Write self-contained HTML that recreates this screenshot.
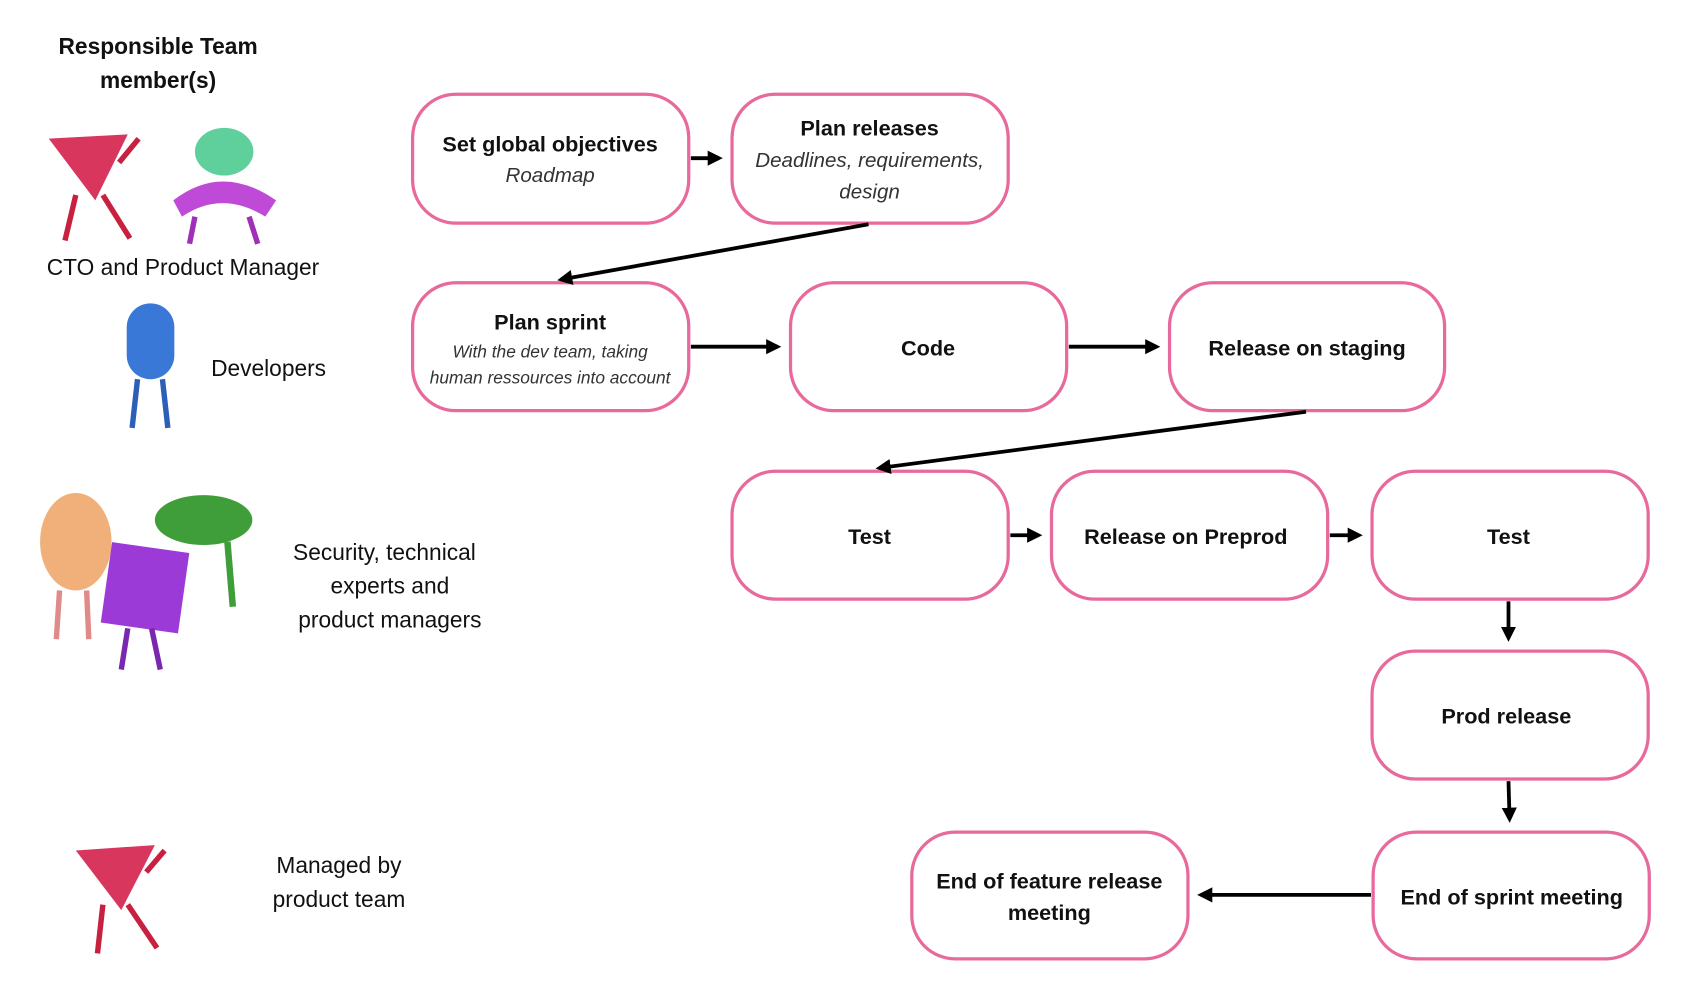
<!DOCTYPE html>
<html><head><meta charset="utf-8"><style>
html,body{margin:0;padding:0;background:#fff;width:1698px;height:1000px;overflow:hidden}
svg{display:block}
text{font-family:"Liberation Sans","DejaVu Sans",sans-serif;fill:#111}
.b{font-weight:bold;font-size:20px}
.i{font-style:italic;font-size:19px;fill:#333}
.n{font-size:21px}
</style></head><body>
<svg width="1698" height="1000" viewBox="0 0 1568 923" preserveAspectRatio="none" xmlns="http://www.w3.org/2000/svg">
<defs><marker id="a" markerWidth="4" markerHeight="4" refX="3" refY="2" orient="auto" markerUnits="strokeWidth"><path d="M0,0 L4,2 L0,4 z" fill="#000"/></marker></defs>
<g fill="#fff" stroke="#e8699b" stroke-width="3">
<rect x="381" y="87" width="255" height="119" rx="40"/>
<rect x="676" y="87" width="255" height="119" rx="40"/>
<rect x="381" y="261" width="255" height="118" rx="40"/>
<rect x="730" y="261" width="255" height="118" rx="40"/>
<rect x="1080" y="261" width="254" height="118" rx="40"/>
<rect x="676" y="435" width="255" height="118" rx="40"/>
<rect x="971" y="435" width="255" height="118" rx="40"/>
<rect x="1267" y="435" width="255" height="118" rx="40"/>
<rect x="1267" y="601" width="255" height="118" rx="40"/>
<rect x="1268" y="768" width="255" height="117" rx="40"/>
<rect x="842" y="768" width="255" height="117" rx="40"/>
</g>
<g stroke="#000" stroke-width="3.5" marker-end="url(#a)" fill="none">
<line x1="638" y1="146" x2="664" y2="146"/>
<line x1="802" y1="207" x2="518" y2="258"/>
<line x1="638" y1="320" x2="718" y2="320"/>
<line x1="987" y1="320" x2="1068" y2="320"/>
<line x1="1206" y1="380" x2="812" y2="432"/>
<line x1="933" y1="494" x2="959" y2="494"/>
<line x1="1228" y1="494" x2="1255" y2="494"/>
<line x1="1393" y1="555" x2="1393" y2="589"/>
<line x1="1393" y1="721" x2="1394" y2="756"/>
<line x1="1266" y1="826" x2="1109" y2="826"/>
</g>
<g text-anchor="middle">
<text class="b" x="508" y="140">Set global objectives</text>
<text class="i" x="508" y="168">Roadmap</text>
<text class="b" x="803" y="125">Plan releases</text>
<text class="i" x="803" y="154">Deadlines, requirements,</text>
<text class="i" x="803" y="183">design</text>
<text class="b" x="508" y="304">Plan sprint</text>
<text class="i" x="508" y="330" style="font-size:16px">With the dev team, taking</text>
<text class="i" x="508" y="354" style="font-size:16px">human ressources into account</text>
<text class="b" x="857" y="328">Code</text>
<text class="b" x="1207" y="328">Release on staging</text>
<text class="b" x="803" y="502">Test</text>
<text class="b" x="1095" y="502">Release on Preprod</text>
<text class="b" x="1393" y="502">Test</text>
<text class="b" x="1391" y="668">Prod release</text>
<text class="b" x="1396" y="835">End of sprint meeting</text>
<text class="b" x="969" y="820">End of feature release</text>
<text class="b" x="969" y="849">meeting</text>
<text class="b" x="146" y="50" style="font-size:21px">Responsible Team</text>
<text class="b" x="146" y="81" style="font-size:21px">member(s)</text>
<text class="n" x="169" y="254">CTO and Product Manager</text>
<text class="n" x="248" y="347">Developers</text>
<text class="n" x="355" y="517">Security, technical</text>
<text class="n" x="360" y="548">experts and</text>
<text class="n" x="360" y="579">product managers</text>
<text class="n" x="313" y="806">Managed by</text>
<text class="n" x="313" y="837">product team</text>
</g>
<g>
<path d="M45,128 L118,124 L88,185 Z" fill="#d9365e"/>
<path d="M70,180 L60,222 M95,180 L120,220 M110,150 L128,128" stroke="#c8203f" stroke-width="5" fill="none"/>
<ellipse cx="207" cy="140" rx="27" ry="22" fill="#5fcf9c"/>
<path d="M160,185 Q205,150 255,185 L245,200 Q205,175 168,200 Z" fill="#c04ad8"/>
<path d="M180,200 L175,225 M230,200 L238,225" stroke="#a030b8" stroke-width="5"/>
<rect x="117" y="280" width="44" height="70" rx="22" fill="#3a78d8"/>
<path d="M127,350 L122,395 M150,350 L155,395" stroke="#2b5fb8" stroke-width="5"/>
<ellipse cx="70" cy="500" rx="33" ry="45" fill="#f1b07a"/>
<path d="M55,545 L52,590 M80,545 L82,590" stroke="#e08a8a" stroke-width="5"/>
<ellipse cx="188" cy="480" rx="45" ry="23" fill="#3f9e3a"/>
<path d="M210,500 L215,560" stroke="#3f9e3a" stroke-width="6"/>
<rect x="98" y="505" width="72" height="75" fill="#9c3ad8" transform="rotate(8 134 542)"/>
<path d="M118,580 L112,618 M140,580 L148,618" stroke="#7a28b0" stroke-width="5"/>
<path d="M70,785 L143,780 L112,840 Z" fill="#d9365e"/>
<path d="M95,835 L90,880 M118,835 L145,875 M135,805 L152,785" stroke="#c8203f" stroke-width="5" fill="none"/>
</g>
</svg>
</body></html>
